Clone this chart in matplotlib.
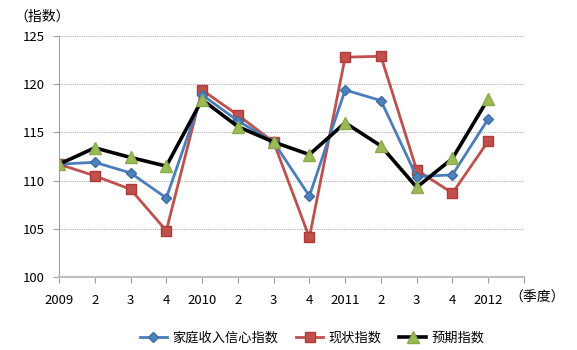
import matplotlib.pyplot as plt
import numpy as np

plt.rcParams['font.family'] = ['Noto Sans CJK SC', 'DejaVu Sans']

quarters = ['2009', '2', '3', '4', '2010', '2', '3', '4', '2011', '2', '3', '4', '2012']

income = [111.7, 111.9, 110.8, 108.2, 118.9, 116.2, 114.0, 108.4, 119.4, 118.3, 110.4, 110.6, 116.4]
current = [111.7, 110.5, 109.1, 104.8, 119.4, 116.8, 114.0, 104.1, 122.8, 122.9, 111.1, 108.7, 114.1]
expect = [111.7, 113.4, 112.4, 111.5, 118.4, 115.6, 114.0, 112.7, 116.0, 113.6, 109.3, 112.3, 118.5]

x = np.arange(len(quarters))
fig = plt.figure(figsize=(5.77, 3.5), dpi=100)
ax = fig.add_axes([59 / 577, 1 - 277 / 350, 465 / 577, 241 / 350])

ax.plot(x, income, color='#4a7ebb', lw=2, marker='D', ms=5,
        mfc='#4f81bd', mec='#3a6ea5', label='家庭收入信心指数', zorder=4)
ax.plot(x, current, color='#c0504d', lw=2, marker='s', ms=7.5,
        mfc='#c0504d', mec='#b03a37', label='现状指数', zorder=3)
ax.plot(x, expect, color='black', lw=2.6, marker='^', ms=8,
        mfc='#9bbb59', mec='#8aab48', label='预期指数', zorder=5)

ax.set_xlim(0, 13)
ax.set_ylim(100, 125)
ax.set_yticks([100, 105, 110, 115, 120, 125])
ax.set_xticks(np.arange(14))
ax.set_xticklabels(quarters + [''])
ax.yaxis.grid(True, color='#b0b0b0', ls=(0, (1, 1)), lw=0.8)

for s in ['top', 'right']:
    ax.spines[s].set_visible(False)
ax.spines['left'].set_color('#a0a0a0')
ax.spines['left'].set_linestyle((0, (1, 1)))
ax.spines['bottom'].set_color('#c0c0c0')
ax.spines['bottom'].set_linewidth(1.6)
ax.tick_params(axis='x', length=4, color='#a0a0a0', labelsize=9.5, pad=8)
ax.tick_params(axis='y', length=4, color='#a0a0a0', labelsize=9.5, pad=6)

fig.text(14 / 577, 1 - 17 / 350, '（指数）', fontsize=10, va='center')
fig.text(509 / 577, 1 - 298 / 350, '（季度）', fontsize=10, va='center')

fig.legend(loc='center', bbox_to_anchor=(0.541, 1 - 338 / 350), ncol=3, frameon=False,
           fontsize=9.5, handlelength=2.0, columnspacing=1.4, handletextpad=0.4)

plt.savefig('out.png', dpi=100)
